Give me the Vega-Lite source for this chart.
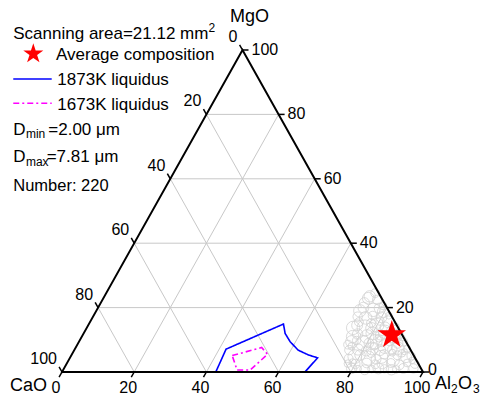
{
  "$schema": "https://vega.github.io/schema/vega-lite/v6.json",
  "width": 361,
  "height": 322,
  "autosize": "none",
  "padding": {"left": 62, "top": 50, "right": 62, "bottom": 34},
  "background": "white",
  "config": {"view": {"stroke": null}, "font": "Liberation Sans"},
  "datasets": {
    "particles": [
      {"CaO":1.0,"MgO":24.5,"Al2O3":74.5,"d":3.0},{"CaO":3.0,"MgO":23.5,"Al2O3":73.5,"d":4.0},{"CaO":1.5,"MgO":22.4,"Al2O3":76.1,"d":3.2},{"CaO":3.7,"MgO":22.9,"Al2O3":73.4,"d":4.2},{"CaO":5.5,"MgO":21.5,"Al2O3":73.0,"d":3.5},
      {"CaO":0.8,"MgO":20.5,"Al2O3":78.7,"d":2.6},{"CaO":2.2,"MgO":19.8,"Al2O3":78.0,"d":3.5},{"CaO":4.1,"MgO":19.3,"Al2O3":76.6,"d":5.0},{"CaO":6.5,"MgO":20.0,"Al2O3":73.5,"d":3.8},{"CaO":8.0,"MgO":19.0,"Al2O3":73.0,"d":4.5},
      {"CaO":1.7,"MgO":18.7,"Al2O3":79.6,"d":4.0},{"CaO":0.7,"MgO":17.5,"Al2O3":81.8,"d":2.4},{"CaO":3.0,"MgO":17.0,"Al2O3":80.0,"d":3.8},{"CaO":5.2,"MgO":17.5,"Al2O3":77.3,"d":3.0},{"CaO":7.5,"MgO":16.8,"Al2O3":75.7,"d":4.6},
      {"CaO":9.5,"MgO":17.2,"Al2O3":73.3,"d":3.2},{"CaO":1.8,"MgO":15.6,"Al2O3":82.6,"d":4.2},{"CaO":0.6,"MgO":14.0,"Al2O3":85.4,"d":2.6},{"CaO":3.5,"MgO":14.0,"Al2O3":82.5,"d":3.4},{"CaO":5.5,"MgO":14.6,"Al2O3":79.9,"d":5.5},
      {"CaO":7.5,"MgO":13.6,"Al2O3":78.9,"d":4.0},{"CaO":9.2,"MgO":13.7,"Al2O3":77.1,"d":6.5},{"CaO":11.0,"MgO":14.5,"Al2O3":74.5,"d":3.8},{"CaO":12.5,"MgO":13.7,"Al2O3":73.8,"d":5.0},{"CaO":2.5,"MgO":12.8,"Al2O3":84.7,"d":3.0},
      {"CaO":0.9,"MgO":11.8,"Al2O3":87.3,"d":3.2},{"CaO":2.0,"MgO":11.5,"Al2O3":86.5,"d":4.2},{"CaO":4.3,"MgO":12.5,"Al2O3":83.2,"d":5.0},{"CaO":6.0,"MgO":11.5,"Al2O3":82.5,"d":3.5},{"CaO":8.0,"MgO":12.0,"Al2O3":80.0,"d":4.8},
      {"CaO":10.0,"MgO":11.0,"Al2O3":79.0,"d":5.2},{"CaO":12.2,"MgO":11.8,"Al2O3":76.0,"d":3.6},{"CaO":14.0,"MgO":11.0,"Al2O3":75.0,"d":4.5},{"CaO":3.5,"MgO":10.5,"Al2O3":86.0,"d":3.0},{"CaO":0.7,"MgO":9.3,"Al2O3":90.0,"d":2.8},
      {"CaO":2.5,"MgO":9.0,"Al2O3":88.5,"d":3.6},{"CaO":4.5,"MgO":9.5,"Al2O3":86.0,"d":3.0},{"CaO":6.5,"MgO":9.6,"Al2O3":83.9,"d":4.0},{"CaO":8.6,"MgO":9.4,"Al2O3":82.0,"d":5.5},{"CaO":10.5,"MgO":9.0,"Al2O3":80.5,"d":3.3},
      {"CaO":12.1,"MgO":8.9,"Al2O3":79.0,"d":6.0},{"CaO":15.0,"MgO":9.4,"Al2O3":75.6,"d":4.5},{"CaO":16.5,"MgO":8.5,"Al2O3":75.0,"d":3.0},{"CaO":0.8,"MgO":7.2,"Al2O3":92.0,"d":2.5},{"CaO":3.2,"MgO":7.4,"Al2O3":89.4,"d":4.5},
      {"CaO":5.0,"MgO":7.0,"Al2O3":88.0,"d":3.2},{"CaO":6.6,"MgO":7.9,"Al2O3":85.5,"d":5.2},{"CaO":8.5,"MgO":6.8,"Al2O3":84.7,"d":3.8},{"CaO":10.5,"MgO":7.2,"Al2O3":82.3,"d":4.4},{"CaO":12.5,"MgO":6.5,"Al2O3":81.0,"d":3.4},
      {"CaO":14.5,"MgO":7.0,"Al2O3":78.5,"d":4.0},{"CaO":17.0,"MgO":6.8,"Al2O3":76.2,"d":3.2},{"CaO":0.8,"MgO":5.0,"Al2O3":94.2,"d":2.8},{"CaO":2.4,"MgO":4.6,"Al2O3":93.0,"d":3.8},{"CaO":4.5,"MgO":5.2,"Al2O3":90.3,"d":3.0},
      {"CaO":6.4,"MgO":3.7,"Al2O3":89.9,"d":4.5},{"CaO":8.0,"MgO":5.5,"Al2O3":86.5,"d":3.2},{"CaO":9.2,"MgO":4.7,"Al2O3":86.1,"d":4.8},{"CaO":11.0,"MgO":4.0,"Al2O3":85.0,"d":3.4},{"CaO":13.0,"MgO":4.3,"Al2O3":82.7,"d":5.5},
      {"CaO":14.8,"MgO":5.3,"Al2O3":79.9,"d":3.6},{"CaO":16.5,"MgO":4.8,"Al2O3":78.7,"d":5.2},{"CaO":18.5,"MgO":4.2,"Al2O3":77.3,"d":3.0},{"CaO":1.0,"MgO":2.5,"Al2O3":96.5,"d":3.0},{"CaO":3.0,"MgO":2.8,"Al2O3":94.2,"d":2.6},
      {"CaO":5.5,"MgO":2.2,"Al2O3":92.3,"d":3.4},{"CaO":7.5,"MgO":2.8,"Al2O3":89.7,"d":3.0},{"CaO":10.0,"MgO":2.6,"Al2O3":87.4,"d":3.6},{"CaO":12.0,"MgO":2.4,"Al2O3":85.6,"d":3.0},{"CaO":14.2,"MgO":2.8,"Al2O3":83.0,"d":3.3},
      {"CaO":17.5,"MgO":2.5,"Al2O3":80.0,"d":3.2},{"CaO":19.5,"MgO":2.6,"Al2O3":77.9,"d":2.6},{"CaO":2.1,"MgO":1.1,"Al2O3":96.8,"d":3.2},{"CaO":4.9,"MgO":1.1,"Al2O3":94.0,"d":3.4},{"CaO":7.0,"MgO":0.8,"Al2O3":92.2,"d":2.6},
      {"CaO":8.4,"MgO":0.7,"Al2O3":90.9,"d":3.6},{"CaO":10.2,"MgO":1.0,"Al2O3":88.8,"d":2.8},{"CaO":11.8,"MgO":1.1,"Al2O3":87.1,"d":3.8},{"CaO":13.8,"MgO":0.9,"Al2O3":85.3,"d":2.6},{"CaO":15.8,"MgO":0.7,"Al2O3":83.5,"d":3.4},
      {"CaO":17.5,"MgO":1.0,"Al2O3":81.5,"d":2.4},{"CaO":19.2,"MgO":1.1,"Al2O3":79.7,"d":3.6},{"CaO":1.5,"MgO":13.2,"Al2O3":85.3,"d":3.0},{"CaO":4.0,"MgO":15.8,"Al2O3":80.2,"d":2.8},{"CaO":6.8,"MgO":15.2,"Al2O3":78.0,"d":3.0},
      {"CaO":3.0,"MgO":5.8,"Al2O3":91.2,"d":2.6},{"CaO":5.5,"MgO":6.0,"Al2O3":88.5,"d":2.4},{"CaO":9.5,"MgO":8.0,"Al2O3":82.5,"d":2.6},{"CaO":11.5,"MgO":5.8,"Al2O3":82.7,"d":2.8},{"CaO":7.0,"MgO":10.5,"Al2O3":82.5,"d":2.6},
      {"CaO":1.2,"MgO":3.6,"Al2O3":95.2,"d":2.3},{"CaO":2.0,"MgO":6.3,"Al2O3":91.7,"d":2.2},{"CaO":13.5,"MgO":9.8,"Al2O3":76.7,"d":2.8},{"CaO":15.8,"MgO":8.0,"Al2O3":76.2,"d":2.5},{"CaO":10.0,"MgO":15.5,"Al2O3":74.5,"d":3.0},
      {"CaO":0.5,"MgO":10.6,"Al2O3":88.9,"d":2.2},{"CaO":18.0,"MgO":3.0,"Al2O3":79.0,"d":2.5}
    ],
    "average": [{"CaO": 2.9, "MgO": 11.5, "Al2O3": 85.6}],
    "liquidus": [
      {"curve":"1873K","i":0,"Al2O3":42.6,"MgO":0,"CaO":57.4},
      {"curve":"1873K","i":1,"Al2O3":41.9,"MgO":7.1,"CaO":51.0},
      {"curve":"1873K","i":2,"Al2O3":53.9,"MgO":14.9,"CaO":31.2},
      {"curve":"1873K","i":3,"Al2O3":55.8,"MgO":12.0,"CaO":32.2},
      {"curve":"1873K","i":4,"Al2O3":58.5,"MgO":9.4,"CaO":32.1},
      {"curve":"1873K","i":5,"Al2O3":62.0,"MgO":6.8,"CaO":31.2},
      {"curve":"1873K","i":6,"Al2O3":65.6,"MgO":5.3,"CaO":29.1},
      {"curve":"1873K","i":7,"Al2O3":68.6,"MgO":4.4,"CaO":27.0},
      {"curve":"1873K","i":8,"Al2O3":67.3,"MgO":0,"CaO":32.7},
      {"curve":"1873K","i":9,"Al2O3":42.6,"MgO":0,"CaO":57.4},
      {"curve":"1673K","i":0,"Al2O3":44.6,"MgO":5.1,"CaO":50.3},
      {"curve":"1673K","i":1,"Al2O3":51.5,"MgO":7.6,"CaO":40.9},
      {"curve":"1673K","i":2,"Al2O3":54.2,"MgO":5.5,"CaO":40.3},
      {"curve":"1673K","i":3,"Al2O3":51.8,"MgO":0.6,"CaO":47.6},
      {"curve":"1673K","i":4,"Al2O3":48.2,"MgO":0.6,"CaO":51.2},
      {"curve":"1673K","i":5,"Al2O3":44.6,"MgO":5.1,"CaO":50.3}
    ],
    "frame": [
      {"i":0,"Al2O3":0,"MgO":0,"CaO":100},
      {"i":1,"Al2O3":100,"MgO":0,"CaO":0},
      {"i":2,"Al2O3":0,"MgO":100,"CaO":0},
      {"i":3,"Al2O3":0,"MgO":0,"CaO":100}
    ],
    "scale": [
      {"comp":"Al2O3","v":0},{"comp":"Al2O3","v":20},{"comp":"Al2O3","v":40},{"comp":"Al2O3","v":60},{"comp":"Al2O3","v":80},{"comp":"Al2O3","v":100},
      {"comp":"MgO","v":0},{"comp":"MgO","v":20},{"comp":"MgO","v":40},{"comp":"MgO","v":60},{"comp":"MgO","v":80},{"comp":"MgO","v":100},
      {"comp":"CaO","v":0},{"comp":"CaO","v":20},{"comp":"CaO","v":40},{"comp":"CaO","v":60},{"comp":"CaO","v":80},{"comp":"CaO","v":100}
    ]
  },
  "layer": [
    {
      "data": {"name": "scale"},
      "transform": [
        {"filter": "datum.v > 0 && datum.v < 100"},
        {"calculate": "datum.comp == 'MgO' ? datum.v / 2 : (datum.comp == 'Al2O3' ? datum.v : 100 - datum.v)", "as": "X"},
        {"calculate": "datum.comp == 'MgO' ? datum.v : 0", "as": "Y"},
        {"calculate": "datum.comp == 'MgO' ? 100 - datum.v / 2 : (datum.comp == 'Al2O3' ? datum.v + (100 - datum.v) / 2 : (100 - datum.v) / 2)", "as": "X2"},
        {"calculate": "datum.comp == 'MgO' ? datum.v : 100 - datum.v", "as": "Y2"}
      ],
      "mark": {"type": "rule", "color": "#c8c8c8", "strokeWidth": 1},
      "encoding": {
        "x": {"field": "X", "type": "quantitative", "scale": {"domain": [0, 100], "nice": false}, "axis": null},
        "y": {"field": "Y", "type": "quantitative", "scale": {"domain": [0, 100], "nice": false}, "axis": null},
        "x2": {"field": "X2"},
        "y2": {"field": "Y2"}
      }
    },
    {
      "data": {"name": "particles"},
      "transform": [
        {"calculate": "datum.Al2O3 + datum.MgO / 2", "as": "X"},
        {"calculate": "datum.MgO", "as": "Y"}
      ],
      "mark": {"type": "point", "shape": "circle", "filled": false, "color": "#d2d2d2", "strokeWidth": 0.8, "opacity": 1},
      "encoding": {
        "x": {"field": "X", "type": "quantitative", "scale": {"domain": [0, 100], "nice": false}, "axis": null},
        "y": {"field": "Y", "type": "quantitative", "scale": {"domain": [0, 100], "nice": false}, "axis": null},
        "size": {"field": "d", "type": "quantitative", "scale": {"domain": [2, 7.81], "range": [28, 320], "zero": false}, "legend": null}
      }
    },
    {
      "data": {"name": "liquidus"},
      "transform": [
        {"calculate": "datum.Al2O3 + datum.MgO / 2", "as": "X"},
        {"calculate": "datum.MgO", "as": "Y"}
      ],
      "mark": {"type": "line", "strokeWidth": 1.6},
      "encoding": {
        "x": {"field": "X", "type": "quantitative", "scale": {"domain": [0, 100], "nice": false}, "axis": null},
        "y": {"field": "Y", "type": "quantitative", "scale": {"domain": [0, 100], "nice": false}, "axis": null},
        "order": {"field": "i", "type": "quantitative"},
        "color": {"field": "curve", "type": "nominal", "scale": {"domain": ["1873K", "1673K"], "range": ["#0000ff", "#ff00ff"]}, "legend": null},
        "strokeDash": {"field": "curve", "type": "nominal", "scale": {"domain": ["1873K", "1673K"], "range": [[1, 0], [6, 3, 2, 3]]}, "legend": null}
      }
    },
    {
      "data": {"name": "frame"},
      "transform": [
        {"calculate": "datum.Al2O3 + datum.MgO / 2", "as": "X"},
        {"calculate": "datum.MgO", "as": "Y"}
      ],
      "mark": {"type": "line", "color": "#000000", "strokeWidth": 2, "strokeCap": "square", "strokeJoin": "miter"},
      "encoding": {
        "x": {"field": "X", "type": "quantitative", "scale": {"domain": [0, 100], "nice": false}, "axis": null},
        "y": {"field": "Y", "type": "quantitative", "scale": {"domain": [0, 100], "nice": false}, "axis": null},
        "order": {"field": "i", "type": "quantitative"}
      }
    },
    {
      "data": {"name": "scale"},
      "transform": [
        {"calculate": "datum.comp == 'Al2O3' ? datum.v : (datum.comp == 'MgO' ? 100 - datum.v / 2 : (100 - datum.v) / 2)", "as": "X"},
        {"calculate": "datum.comp == 'Al2O3' ? 0 : (datum.comp == 'MgO' ? datum.v : 100 - datum.v)", "as": "Y"}
      ],
      "mark": {"type": "point", "filled": false, "color": "#000000", "strokeWidth": 1.5, "size": 144, "opacity": 1},
      "encoding": {
        "x": {"field": "X", "type": "quantitative", "scale": {"domain": [0, 100], "nice": false}, "axis": null},
        "y": {"field": "Y", "type": "quantitative", "scale": {"domain": [0, 100], "nice": false}, "axis": null},
        "shape": {"field": "comp", "type": "nominal", "scale": {"domain": ["Al2O3", "MgO", "CaO"], "range": ["M0,0L-0.489,0.872", "M0,0L1,0", "M0,0L-0.489,-0.872"]}, "legend": null}
      }
    },
    {
      "data": {"name": "scale"},
      "transform": [
        {"filter": "datum.comp == 'Al2O3'"},
        {"calculate": "datum.v", "as": "X"},
        {"calculate": "0", "as": "Y"}
      ],
      "mark": {"type": "text", "fontSize": 16, "font": "Liberation Sans", "align": "center", "baseline": "middle", "dx": -6, "dy": 16, "color": "#000000"},
      "encoding": {
        "x": {"field": "X", "type": "quantitative", "scale": {"domain": [0, 100], "nice": false}, "axis": null},
        "y": {"field": "Y", "type": "quantitative", "scale": {"domain": [0, 100], "nice": false}, "axis": null},
        "text": {"field": "v", "type": "quantitative", "format": "d"}
      }
    },
    {
      "data": {"name": "scale"},
      "transform": [
        {"filter": "datum.comp == 'CaO'"},
        {"calculate": "(100 - datum.v) / 2", "as": "X"},
        {"calculate": "100 - datum.v", "as": "Y"}
      ],
      "mark": {"type": "text", "fontSize": 16, "font": "Liberation Sans", "align": "right", "baseline": "middle", "dx": -5, "dy": -13, "color": "#000000"},
      "encoding": {
        "x": {"field": "X", "type": "quantitative", "scale": {"domain": [0, 100], "nice": false}, "axis": null},
        "y": {"field": "Y", "type": "quantitative", "scale": {"domain": [0, 100], "nice": false}, "axis": null},
        "text": {"field": "v", "type": "quantitative", "format": "d"}
      }
    },
    {
      "data": {"name": "scale"},
      "transform": [
        {"filter": "datum.comp == 'MgO' && datum.v > 0"},
        {"calculate": "100 - datum.v / 2", "as": "X"},
        {"calculate": "datum.v", "as": "Y"}
      ],
      "mark": {"type": "text", "fontSize": 16, "font": "Liberation Sans", "align": "left", "baseline": "middle", "dx": 9, "dy": 0, "color": "#000000"},
      "encoding": {
        "x": {"field": "X", "type": "quantitative", "scale": {"domain": [0, 100], "nice": false}, "axis": null},
        "y": {"field": "Y", "type": "quantitative", "scale": {"domain": [0, 100], "nice": false}, "axis": null},
        "text": {"field": "v", "type": "quantitative", "format": "d"}
      }
    },
    {
      "data": {"name": "scale"},
      "transform": [
        {"filter": "datum.comp == 'MgO' && datum.v == 0"},
        {"calculate": "100", "as": "X"},
        {"calculate": "0", "as": "Y"}
      ],
      "mark": {"type": "text", "fontSize": 16, "font": "Liberation Sans", "align": "left", "baseline": "middle", "dx": 5, "dy": -2, "color": "#000000"},
      "encoding": {
        "x": {"field": "X", "type": "quantitative", "scale": {"domain": [0, 100], "nice": false}, "axis": null},
        "y": {"field": "Y", "type": "quantitative", "scale": {"domain": [0, 100], "nice": false}, "axis": null},
        "text": {"field": "v", "type": "quantitative", "format": "d"}
      }
    },
    {
      "data": {"name": "average"},
      "transform": [
        {"calculate": "datum.Al2O3 + datum.MgO / 2", "as": "X"},
        {"calculate": "datum.MgO", "as": "Y"}
      ],
      "mark": {"type": "point", "filled": true, "color": "#ff0000", "opacity": 1, "strokeWidth": 0, "size": 900, "shape": "M0,-1L0.225,-0.309L0.951,-0.309L0.363,0.118L0.588,0.809L0,0.382L-0.588,0.809L-0.363,0.118L-0.951,-0.309L-0.225,-0.309Z"},
      "encoding": {
        "x": {"field": "X", "type": "quantitative", "scale": {"domain": [0, 100], "nice": false}, "axis": null},
        "y": {"field": "Y", "type": "quantitative", "scale": {"domain": [0, 100], "nice": false}, "axis": null}
      }
    },
    {
      "data": {"values": [{}]},
      "layer": [
        {"mark": {"type": "text", "text": "MgO", "fontSize": 18, "font": "Liberation Sans", "align": "center", "baseline": "alphabetic", "dx": 7, "dy": -28},
         "encoding": {"x": {"datum": 50, "type": "quantitative", "scale": {"domain": [0, 100], "nice": false}, "axis": null}, "y": {"datum": 100, "type": "quantitative", "scale": {"domain": [0, 100], "nice": false}, "axis": null}}},
        {"mark": {"type": "text", "text": "CaO", "fontSize": 18, "font": "Liberation Sans", "align": "right", "baseline": "alphabetic", "dx": -15, "dy": 19},
         "encoding": {"x": {"datum": 0, "type": "quantitative", "scale": {"domain": [0, 100], "nice": false}, "axis": null}, "y": {"datum": 0, "type": "quantitative", "scale": {"domain": [0, 100], "nice": false}, "axis": null}}},
        {"mark": {"type": "text", "text": "Al", "fontSize": 18, "font": "Liberation Sans", "align": "left", "baseline": "alphabetic", "dx": 12, "dy": 17},
         "encoding": {"x": {"datum": 100, "type": "quantitative", "scale": {"domain": [0, 100], "nice": false}, "axis": null}, "y": {"datum": 0, "type": "quantitative", "scale": {"domain": [0, 100], "nice": false}, "axis": null}}},
        {"mark": {"type": "text", "text": "2", "fontSize": 12, "font": "Liberation Sans", "align": "left", "baseline": "alphabetic", "dx": 28, "dy": 21},
         "encoding": {"x": {"datum": 100, "type": "quantitative", "scale": {"domain": [0, 100], "nice": false}, "axis": null}, "y": {"datum": 0, "type": "quantitative", "scale": {"domain": [0, 100], "nice": false}, "axis": null}}},
        {"mark": {"type": "text", "text": "O", "fontSize": 18, "font": "Liberation Sans", "align": "left", "baseline": "alphabetic", "dx": 35, "dy": 17},
         "encoding": {"x": {"datum": 100, "type": "quantitative", "scale": {"domain": [0, 100], "nice": false}, "axis": null}, "y": {"datum": 0, "type": "quantitative", "scale": {"domain": [0, 100], "nice": false}, "axis": null}}},
        {"mark": {"type": "text", "text": "3", "fontSize": 12, "font": "Liberation Sans", "align": "left", "baseline": "alphabetic", "dx": 50, "dy": 21},
         "encoding": {"x": {"datum": 100, "type": "quantitative", "scale": {"domain": [0, 100], "nice": false}, "axis": null}, "y": {"datum": 0, "type": "quantitative", "scale": {"domain": [0, 100], "nice": false}, "axis": null}}},
        {"mark": {"type": "text", "text": "Scanning area=21.12 mm", "fontSize": 17, "font": "Liberation Sans", "align": "left", "baseline": "alphabetic"},
         "encoding": {"x": {"datum": -13.5, "type": "quantitative", "scale": {"domain": [0, 100], "nice": false}, "axis": null}, "y": {"datum": 103.3, "type": "quantitative", "scale": {"domain": [0, 100], "nice": false}, "axis": null}}},
        {"mark": {"type": "text", "text": "2", "fontSize": 12, "font": "Liberation Sans", "align": "left", "baseline": "alphabetic"},
         "encoding": {"x": {"datum": 40.6, "type": "quantitative", "scale": {"domain": [0, 100], "nice": false}, "axis": null}, "y": {"datum": 105.5, "type": "quantitative", "scale": {"domain": [0, 100], "nice": false}, "axis": null}}},
        {"mark": {"type": "point", "filled": true, "color": "#ff0000", "opacity": 1, "strokeWidth": 0, "size": 441, "shape": "M0,-1L0.225,-0.309L0.951,-0.309L0.363,0.118L0.588,0.809L0,0.382L-0.588,0.809L-0.363,0.118L-0.951,-0.309L-0.225,-0.309Z"},
         "encoding": {"x": {"datum": -7.95, "type": "quantitative", "scale": {"domain": [0, 100], "nice": false}, "axis": null}, "y": {"datum": 98.8, "type": "quantitative", "scale": {"domain": [0, 100], "nice": false}, "axis": null}}},
        {"mark": {"type": "text", "text": "Average composition", "fontSize": 17, "font": "Liberation Sans", "align": "left", "baseline": "alphabetic"},
         "encoding": {"x": {"datum": -1.66, "type": "quantitative", "scale": {"domain": [0, 100], "nice": false}, "axis": null}, "y": {"datum": 96.9, "type": "quantitative", "scale": {"domain": [0, 100], "nice": false}, "axis": null}}},
        {"mark": {"type": "rule", "color": "#0000ff", "strokeWidth": 1.6},
         "encoding": {"x": {"datum": -13.5, "type": "quantitative", "scale": {"domain": [0, 100], "nice": false}, "axis": null}, "x2": {"datum": -2.85}, "y": {"datum": 91.0, "type": "quantitative", "scale": {"domain": [0, 100], "nice": false}, "axis": null}}},
        {"mark": {"type": "text", "text": "1873K liquidus", "fontSize": 17, "font": "Liberation Sans", "align": "left", "baseline": "alphabetic"},
         "encoding": {"x": {"datum": -1.3, "type": "quantitative", "scale": {"domain": [0, 100], "nice": false}, "axis": null}, "y": {"datum": 89.1, "type": "quantitative", "scale": {"domain": [0, 100], "nice": false}, "axis": null}}},
        {"mark": {"type": "rule", "color": "#ff00ff", "strokeWidth": 1.6, "strokeDash": [6, 3, 2, 3]},
         "encoding": {"x": {"datum": -13.5, "type": "quantitative", "scale": {"domain": [0, 100], "nice": false}, "axis": null}, "x2": {"datum": -2.85}, "y": {"datum": 83.45, "type": "quantitative", "scale": {"domain": [0, 100], "nice": false}, "axis": null}}},
        {"mark": {"type": "text", "text": "1673K liquidus", "fontSize": 17, "font": "Liberation Sans", "align": "left", "baseline": "alphabetic"},
         "encoding": {"x": {"datum": -1.3, "type": "quantitative", "scale": {"domain": [0, 100], "nice": false}, "axis": null}, "y": {"datum": 81.4, "type": "quantitative", "scale": {"domain": [0, 100], "nice": false}, "axis": null}}},
        {"mark": {"type": "text", "text": "D", "fontSize": 17, "font": "Liberation Sans", "align": "left", "baseline": "alphabetic"},
         "encoding": {"x": {"datum": -13.5, "type": "quantitative", "scale": {"domain": [0, 100], "nice": false}, "axis": null}, "y": {"datum": 73.6, "type": "quantitative", "scale": {"domain": [0, 100], "nice": false}, "axis": null}}},
        {"mark": {"type": "text", "text": "min", "fontSize": 12, "font": "Liberation Sans", "align": "left", "baseline": "alphabetic"},
         "encoding": {"x": {"datum": -10.0, "type": "quantitative", "scale": {"domain": [0, 100], "nice": false}, "axis": null}, "y": {"datum": 72.7, "type": "quantitative", "scale": {"domain": [0, 100], "nice": false}, "axis": null}}},
        {"mark": {"type": "text", "text": "=2.00 μm", "fontSize": 17, "font": "Liberation Sans", "align": "left", "baseline": "alphabetic"},
         "encoding": {"x": {"datum": -3.8, "type": "quantitative", "scale": {"domain": [0, 100], "nice": false}, "axis": null}, "y": {"datum": 73.6, "type": "quantitative", "scale": {"domain": [0, 100], "nice": false}, "axis": null}}},
        {"mark": {"type": "text", "text": "D", "fontSize": 17, "font": "Liberation Sans", "align": "left", "baseline": "alphabetic"},
         "encoding": {"x": {"datum": -13.5, "type": "quantitative", "scale": {"domain": [0, 100], "nice": false}, "axis": null}, "y": {"datum": 65.3, "type": "quantitative", "scale": {"domain": [0, 100], "nice": false}, "axis": null}}},
        {"mark": {"type": "text", "text": "max", "fontSize": 12, "font": "Liberation Sans", "align": "left", "baseline": "alphabetic"},
         "encoding": {"x": {"datum": -10.0, "type": "quantitative", "scale": {"domain": [0, 100], "nice": false}, "axis": null}, "y": {"datum": 63.9, "type": "quantitative", "scale": {"domain": [0, 100], "nice": false}, "axis": null}}},
        {"mark": {"type": "text", "text": "=7.81 μm", "fontSize": 17, "font": "Liberation Sans", "align": "left", "baseline": "alphabetic"},
         "encoding": {"x": {"datum": -4.24, "type": "quantitative", "scale": {"domain": [0, 100], "nice": false}, "axis": null}, "y": {"datum": 65.3, "type": "quantitative", "scale": {"domain": [0, 100], "nice": false}, "axis": null}}},
        {"mark": {"type": "text", "text": "Number: 220", "fontSize": 16.5, "font": "Liberation Sans", "align": "left", "baseline": "alphabetic"},
         "encoding": {"x": {"datum": -13.5, "type": "quantitative", "scale": {"domain": [0, 100], "nice": false}, "axis": null}, "y": {"datum": 56.3, "type": "quantitative", "scale": {"domain": [0, 100], "nice": false}, "axis": null}}}
      ]
    }
  ]
}
